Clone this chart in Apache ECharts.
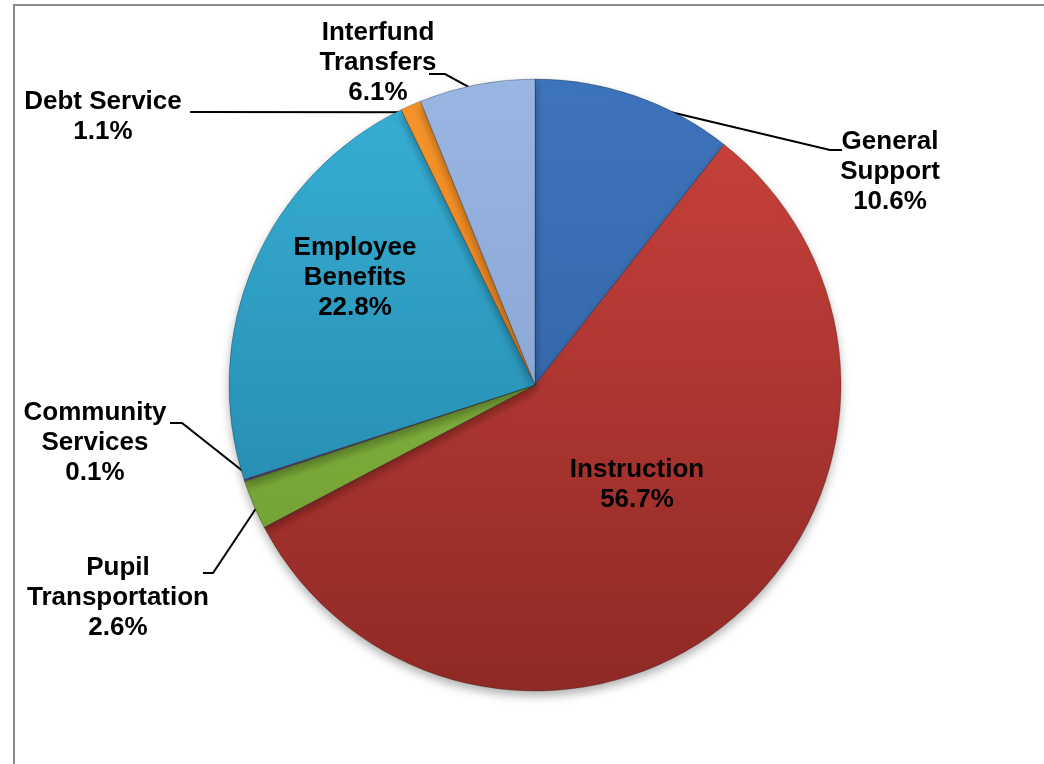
<!DOCTYPE html>
<html>
<head>
<meta charset="utf-8">
<script src="https://cdn.jsdelivr.net/npm/echarts@6/dist/echarts.min.js"></script>
<style>
  html, body { margin: 0; padding: 0; background: #fff; }
  #frame {
    position: absolute; left: 13px; top: 4px; width: 1100px; height: 800px;
    border-top: 2px solid #8a8a8a; border-left: 2px solid #8a8a8a;
  }
  #chart { position: absolute; left: 0; top: 0; width: 1044px; height: 764px; }
</style>
</head>
<body>
<div id="frame"></div>
<div id="chart"></div>
<script>
// budget shares, clockwise from 12 o'clock
const categories = ['General Support', 'Instruction', 'Pupil Transportation', 'Community Services',
  'Employee Benefits', 'Debt Service', 'Interfund Transfers'];
const labelText = ['General\nSupport', 'Instruction', 'Pupil\nTransportation', 'Community\nServices',
  'Employee\nBenefits', 'Debt Service', 'Interfund\nTransfers'];
const shares = [10.6, 56.7, 2.6, 0.1, 22.8, 1.1, 6.1];

// layout / style
const CX = 535, CY = 385, R = 306;
const colorTop = ['#3e74bc', '#cc433d', '#93c44c', '#8a6bab', '#38b0d6', '#f7952a', '#9ab6e2'];
const colorBot = ['#2d5e9e', '#8f2925', '#6a982e', '#634a85', '#1f7ea2', '#d9711a', '#7d9bcb'];
// label block centres and elbow points of leader lines
const labelPos = [[890, 172], [637, 485], [118, 598], [95, 443], [355, 278], [103, 117], [378, 63]];
const elbows = [
  [[830, 150], [842, 150]],
  null,
  [[213, 573], [203, 573]],
  [[182, 423], [170, 423]],
  null,
  [[190, 112]],
  [[445, 74], [429, 74]]
];

const total = shares.reduce((a, b) => a + b, 0);
function anchorOf(i) {
  let cum = 0;
  for (let k = 0; k < i; k++) cum += shares[k];
  const a = (cum + shares[i] / 2) / total * Math.PI * 2;
  const r = R * 0.975;
  return [CX + r * Math.sin(a), CY - r * Math.cos(a)];
}

const myChart = echarts.init(document.getElementById('chart'));
myChart.setOption({
  animation: false,
  series: [
    {
      type: 'pie',
      center: [CX, CY],
      radius: R,
      startAngle: 90,
      clockwise: true,
      avoidLabelOverlap: false,
      itemStyle: {
        borderColor: 'rgba(0,0,0,0.25)',
        borderWidth: 1,
        shadowBlur: 10,
        shadowOffsetY: 5,
        shadowColor: 'rgba(0,0,0,0.3)'
      },
      label: {
        show: true,
        position: 'outside',
        fontFamily: 'Liberation Sans, Arial, sans-serif',
        fontWeight: 'bold',
        fontSize: 26,
        lineHeight: 30,
        color: '#000',
        align: 'center',
        formatter: (p) => labelText[p.dataIndex] + '\n' + p.value.toFixed(1) + '%'
      },
      labelLine: {
        show: true,
        lineStyle: { color: '#000', width: 2 }
      },
      labelLayout: function (params) {
        const i = params.dataIndex;
        const out = { x: labelPos[i][0], y: labelPos[i][1], align: 'center', verticalAlign: 'middle' };
        if (elbows[i]) out.labelLinePoints = [anchorOf(i)].concat(elbows[i]);
        return out;
      },
      data: categories.map((name, i) => ({
        name: name,
        value: shares[i],
        itemStyle: {
          color: {
            type: 'linear', x: 0, y: CY - R, x2: 0, y2: CY + R, global: true,
            colorStops: [{ offset: 0, color: colorTop[i] }, { offset: 1, color: colorBot[i] }]
          }
        },
        labelLine: { show: !!elbows[i] }
      }))
    }
  ]
});
</script>
</body>
</html>
